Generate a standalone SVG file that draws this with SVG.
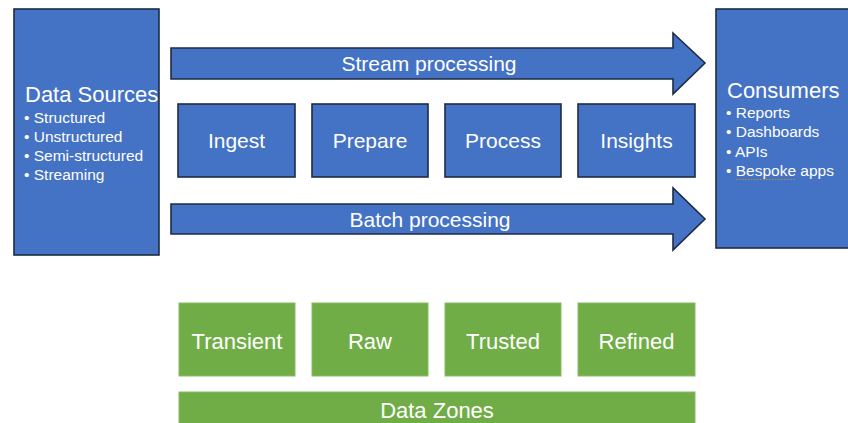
<svg xmlns="http://www.w3.org/2000/svg" width="848" height="423" viewBox="0 0 848 423">
<style>
.blue{fill:#4472C4;stroke:#1E2B45;stroke-width:1.6}
.green{fill:#70AD47;stroke:#86BC63;stroke-width:1}
text{font-family:"Liberation Sans",Arial,sans-serif;fill:#FFFFFF}
.lbl{font-size:21px;text-anchor:middle}
.glbl{font-size:22px;text-anchor:middle}
.title{font-size:22px}
.item{font-size:15.5px}
</style>
<rect width="848" height="423" fill="#FFFFFF"/>
<g id="data-sources">
<rect class="blue" x="14" y="9" width="145" height="246"/>
<text class="title" x="25" y="102">Data Sources</text>
<text class="item" x="24" y="123">• Structured</text>
<text class="item" x="24" y="142">• Unstructured</text>
<text class="item" x="24" y="161">• Semi-structured</text>
<text class="item" x="24" y="180">• Streaming</text>
</g>
<g id="consumers">
<rect class="blue" x="716" y="9" width="140" height="239"/>
<text class="title" x="727" y="98">Consumers</text>
<text class="item" x="726" y="118">• Reports</text>
<text class="item" x="726" y="137">• Dashboards</text>
<text class="item" x="726" y="157">• APIs</text>
<text class="item" x="726" y="176">• Bespoke apps</text>
<line x1="736" y1="179.5" x2="796" y2="179.5" stroke="#C98A2E" stroke-width="1" stroke-dasharray="1.5 1.5"/>
</g>
<g id="connectors">
<g id="stream-processing">
<polygon class="blue" points="171,48 673,48 673,33 705,63 673,94 673,79 171,79"/>
<text class="lbl" x="429" y="71">Stream processing</text>
</g>
<g id="batch-processing">
<polygon class="blue" points="171,204 673,204 673,188 705,219 673,250 673,234 171,234"/>
<text class="lbl" x="430" y="227">Batch processing</text>
</g>
</g>
<g id="ingest">
<rect class="blue" x="178" y="104" width="117" height="73"/>
<text class="lbl" x="236.5" y="148">Ingest</text>
</g>
<g id="prepare">
<rect class="blue" x="312" y="104" width="116" height="73"/>
<text class="lbl" x="370" y="148">Prepare</text>
</g>
<g id="process">
<rect class="blue" x="445" y="104" width="116" height="73"/>
<text class="lbl" x="503" y="148">Process</text>
</g>
<g id="insights">
<rect class="blue" x="578" y="104" width="117" height="73"/>
<text class="lbl" x="636.5" y="148">Insights</text>
</g>
<g id="transient">
<rect class="green" x="179" y="303" width="116" height="73"/>
<text class="glbl" x="237" y="349">Transient</text>
</g>
<g id="raw">
<rect class="green" x="312" y="303" width="116" height="73"/>
<text class="glbl" x="370" y="349">Raw</text>
</g>
<g id="trusted">
<rect class="green" x="445" y="303" width="116" height="73"/>
<text class="glbl" x="503" y="349">Trusted</text>
</g>
<g id="refined">
<rect class="green" x="578" y="303" width="117" height="73"/>
<text class="glbl" x="636.5" y="349">Refined</text>
</g>
<g id="data-zones">
<rect class="green" x="179" y="392" width="516" height="40"/>
<text class="glbl" x="437" y="418">Data Zones</text>
</g>
</svg>
